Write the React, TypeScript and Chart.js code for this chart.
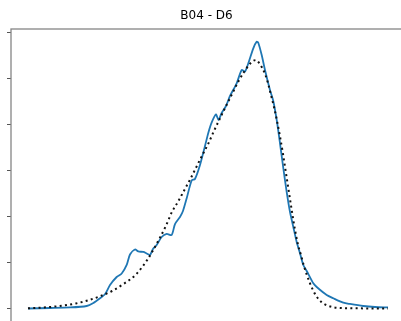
import React, { useEffect, useRef } from "react";
import { Chart, registerables } from "chart.js";

Chart.register(...registerables);

const TITLE = "B04 - D6";

// observed (blue) curve
const obsX = [0, 3.67, 7, 9.78, 10.9, 12, 12.83, 13.67, 14.78, 15.62, 16.45, 17, 17.83, 18.38, 19.22, 19.78, 20.33, 20.83, 21.45, 22.28, 23.12, 23.95, 24.5, 25.33, 25.83, 26.45, 27.28, 27.83, 28.67, 29.5, 30.05, 30.62, 31.33, 31.75, 32.28, 33, 33.67, 34.78, 35.62, 36.17, 36.72, 37.55, 38.12, 38.38, 38.95, 39.5, 40.33, 40.88, 41.45, 42, 42.55, 43.12, 43.67, 44.22, 44.78, 45.33, 45.88, 46.45, 47.55, 48.12, 49.78, 50.88, 52.55, 53.67, 55.88, 57.83, 60];
const obsY = [0.0, 0.005, 0.011, 0.027, 0.06, 0.111, 0.154, 0.255, 0.342, 0.38, 0.473, 0.587, 0.641, 0.62, 0.614, 0.598, 0.582, 0.647, 0.69, 0.777, 0.81, 0.799, 0.918, 0.995, 1.06, 1.198, 1.391, 1.408, 1.56, 1.766, 1.908, 2.022, 2.109, 2.049, 2.125, 2.201, 2.31, 2.448, 2.592, 2.576, 2.665, 2.828, 2.9, 2.889, 2.755, 2.592, 2.375, 2.255, 2.049, 1.796, 1.527, 1.266, 1.049, 0.886, 0.723, 0.6, 0.473, 0.408, 0.274, 0.234, 0.147, 0.111, 0.063, 0.049, 0.027, 0.016, 0.011];

// fitted (dotted) curve
const fitX = [0, 2, 4, 6, 8, 10, 12, 14, 16, 18, 20, 21, 22, 23, 24, 25, 26, 27, 28, 29, 30, 31, 32, 33, 34, 35, 36, 37, 37.5, 38, 38.5, 39, 39.5, 40, 40.5, 41, 41.5, 42, 42.5, 43, 43.5, 44, 44.5, 45, 45.5, 46, 47, 48, 49, 50, 51, 52, 54, 57, 60];
const fitY = [0.002, 0.008, 0.018, 0.033, 0.055, 0.088, 0.133, 0.19, 0.27, 0.37, 0.54, 0.65, 0.77, 0.9, 1.05, 1.16, 1.28, 1.4, 1.53, 1.66, 1.785, 1.93, 2.067, 2.2, 2.33, 2.46, 2.57, 2.66, 2.69, 2.7, 2.67, 2.62, 2.55, 2.45, 2.32, 2.19, 2.04, 1.87, 1.68, 1.47, 1.26, 1.05, 0.855, 0.694, 0.58, 0.46, 0.274, 0.14, 0.065, 0.03, 0.012, 0.005, 0.002, 0.001, 0.001];

const yTicks = [0, 0.5, 1, 1.5, 2, 2.5, 3];
const X_MIN = -2.83;
const X_MAX = 63;
const Y_MIN = -0.147;
const Y_MAX = 3.038;

const framePlugin = {
  id: "frame",
  afterDatasetsDraw(chart: any) {
    const { ctx, chartArea } = chart;
    ctx.save();
    ctx.strokeStyle = "#858585";
    ctx.lineWidth = 1.3;
    ctx.strokeRect(chartArea.left, chartArea.top, chartArea.right - chartArea.left, chartArea.bottom - chartArea.top);
    ctx.restore();
  },
};

export default function App() {
  const ref = useRef<HTMLCanvasElement>(null);
  useEffect(() => {
    if (!ref.current) return;
    const chart = new Chart(ref.current, {
      type: "line",
      data: {
        datasets: [
          {
            data: obsX.map((x, i) => ({ x, y: obsY[i] })),
            borderColor: "#1f77b4",
            borderWidth: 1.8,
            pointRadius: 0,
            tension: 0.25,
            fill: false,
            order: 2,
          },
          {
            data: fitX.map((x, i) => ({ x, y: fitY[i] })),
            borderColor: "#111111",
            borderWidth: 2,
            borderDash: [2, 3.3],
            borderCapStyle: "butt",
            pointRadius: 0,
            cubicInterpolationMode: "monotone",
            fill: false,
            order: 1,
          },
        ],
      },
      options: {
        responsive: false,
        animation: false,
        devicePixelRatio: 1,
        layout: { padding: { left: 7, right: 14, top: 0, bottom: 18 } },
        plugins: {
          legend: { display: false },
          tooltip: { enabled: false },
          title: {
            display: true,
            text: TITLE,
            color: "#000",
            font: { family: "DejaVu Sans", size: 12, weight: "normal", lineHeight: 1.2 },
            padding: { top: 9, bottom: 5.6 },
          },
        },
        scales: {
          x: { type: "linear", min: X_MIN, max: X_MAX, display: false },
          y: {
            type: "linear",
            min: Y_MIN,
            max: Y_MAX,
            afterBuildTicks: (scale: any) => {
              scale.ticks = yTicks.map((v) => ({ value: v }));
            },
            ticks: { display: false },
            border: { display: false },
            grid: {
              drawOnChartArea: false,
              drawTicks: true,
              tickLength: 4,
              color: "#555555",
              lineWidth: 1,
            },
          },
        },
      },
      plugins: [framePlugin],
    });
    return () => chart.destroy();
  }, []);
  return (
    <div style={{ position: "fixed", left: 0, top: 0, width: 401, height: 321, overflow: "hidden", background: "#fff" }}>
      <canvas ref={ref} width={420} height={340} />
    </div>
  );
}
